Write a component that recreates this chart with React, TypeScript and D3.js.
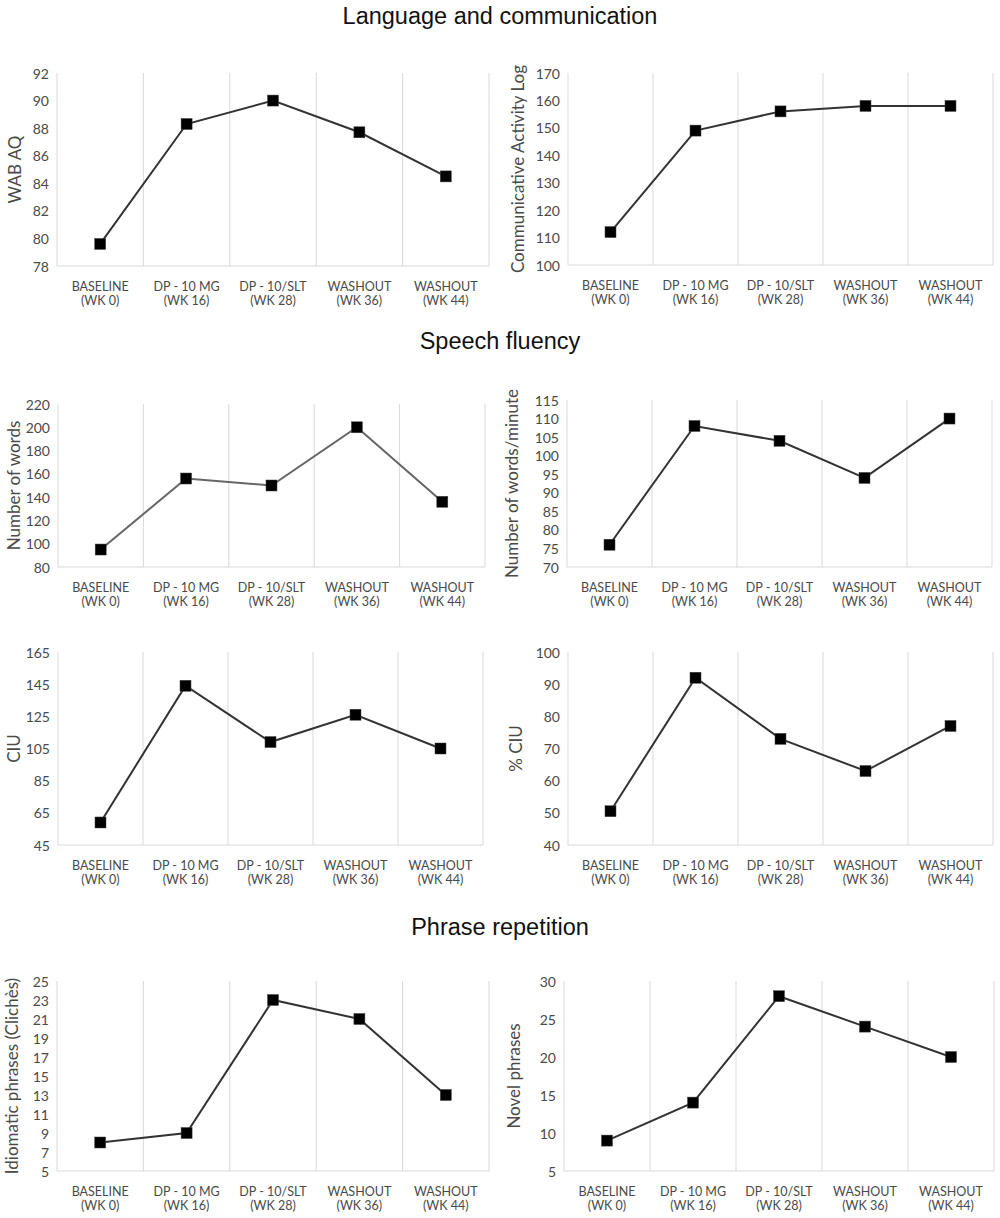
import React, { useEffect } from "react";
import * as d3 from "d3";

const categories = [
  ["BASELINE", "(WK 0)"],
  ["DP - 10 MG", "(WK 16)"],
  ["DP - 10/SLT", "(WK 28)"],
  ["WASHOUT", "(WK 36)"],
  ["WASHOUT", "(WK 44)"],
];
const catKeys = categories.map((c) => c.join(" "));

const sectionTitles = ["Language and communication", "Speech fluency", "Phrase repetition"];

const wabAQ = [79.6, 88.3, 90.0, 87.7, 84.5];
const activityLog = [112, 149, 156, 158, 158];
const numWords = [95, 156, 150, 200, 136];
const wordsPerMinute = [76, 108, 104, 94, 110];
const ciu = [59, 144, 109, 126, 105];
const pctCiu = [50.5, 92, 73, 63, 77];
const idiomatic = [8, 9, 23, 21, 13];
const novel = [9, 14, 28, 24, 20];

// [min, max, step] for each y axis
const wabTicks = [78, 92, 2];
const logTicks = [100, 170, 10];
const wordsTicks = [80, 220, 20];
const wpmTicks = [70, 115, 5];
const ciuTicks = [45, 165, 20];
const pctTicks = [40, 100, 10];
const idiomTicks = [5, 25, 2];
const novelTicks = [5, 30, 5];

interface Panel {
  label: string;
  values: number[];
  ticks: number[];
  box: [number, number, number, number]; // left, right, top, bottom
  titleX: number;
  lineColor?: string;
}

const panels: Panel[] = [
  { label: "WAB AQ", values: wabAQ, ticks: wabTicks, box: [57, 489, 73, 266], titleX: 14 },
  { label: "Communicative Activity Log", values: activityLog, ticks: logTicks, box: [568, 993, 73, 265], titleX: 517 },
  { label: "Number of words", values: numWords, ticks: wordsTicks, box: [58, 485, 404, 567], titleX: 13, lineColor: "#666" },
  { label: "Number of words/minute", values: wordsPerMinute, ticks: wpmTicks, box: [567, 992, 400, 567], titleX: 511 },
  { label: "CIU", values: ciu, ticks: ciuTicks, box: [58, 483, 652, 845], titleX: 13 },
  { label: "% CIU", values: pctCiu, ticks: pctTicks, box: [568, 993, 652, 845], titleX: 515 },
  { label: "Idiomatic phrases (Clichès)", values: idiomatic, ticks: idiomTicks, box: [57, 489, 981, 1171], titleX: 11 },
  { label: "Novel phrases", values: novel, ticks: novelTicks, box: [564, 994, 981, 1171], titleX: 513 },
];

const titleY = [24, 349, 935];

const FONT = "Lato, 'Open Sans', sans-serif";
const GRID = "#d9d9d9";
const TEXT = "#4a4a4a";

const ChartPanel: React.FC<{ p: Panel }> = ({ p }) => {
  const [left, right, top, bottom] = p.box;
  const [min, max, step] = p.ticks;
  const x = d3.scaleBand<string>().domain(catKeys).range([left, right]).padding(0);
  const y = d3.scaleLinear().domain([min, max]).range([bottom, top]);
  const tickVals = d3.range(min, max + step / 2, step);
  const edges = [...catKeys.map((k) => x(k)!), right];
  const cx = (i: number) => x(catKeys[i])! + x.bandwidth() / 2;
  const line = d3
    .line<number>()
    .x((_, i) => cx(i))
    .y((d) => y(d));
  const sq = 11;

  return (
    <g>
      {edges.map((e, i) => (
        <line key={i} x1={e} x2={e} y1={top} y2={bottom} stroke={GRID} strokeWidth={1} />
      ))}
      <line x1={left} x2={right} y1={bottom} y2={bottom} stroke={GRID} strokeWidth={1} />
      {tickVals.map((t) => (
        <text
          key={t}
          x={left - 8}
          y={y(t)}
          textAnchor="end"
          dominantBaseline="central"
          fontSize={14}
          fill={TEXT}
          fontFamily={FONT}
        >
          {t}
        </text>
      ))}
      {categories.map((c, i) => (
        <text key={i} textAnchor="middle" fontSize={12.5} fill={TEXT} fontFamily={FONT}>
          <tspan x={cx(i)} y={bottom + 25}>
            {c[0]}
          </tspan>
          <tspan x={cx(i)} y={bottom + 39}>
            {c[1]}
          </tspan>
        </text>
      ))}
      <text
        transform={`translate(${p.titleX},${(top + bottom) / 2}) rotate(-90)`}
        textAnchor="middle"
        dominantBaseline="central"
        fontSize={17}
        fill={TEXT}
        fontFamily={FONT}
      >
        {p.label}
      </text>
      <path d={line(p.values) || ""} fill="none" stroke={p.lineColor || "#333"} strokeWidth={2} />
      {p.values.map((v, i) => (
        <rect
          key={i}
          x={cx(i) - sq / 2}
          y={y(v) - sq / 2}
          width={sq}
          height={sq}
          fill="#000"
          stroke="#444"
          strokeWidth={0.5}
        />
      ))}
    </g>
  );
};

const App: React.FC = () => {
  useEffect(() => {
    document.body.style.margin = "0";
  }, []);

  return (
    <svg width={1000} height={1218} style={{ display: "block", background: "#fff" }}>
      <rect width={1000} height={1218} fill="#fff" />
      {sectionTitles.map((t, i) => (
        <text
          key={t}
          x={500}
          y={titleY[i]}
          textAnchor="middle"
          fontSize={23.5}
          fill="#111"
          fontFamily="'Liberation Sans', Arial, sans-serif"
        >
          {t}
        </text>
      ))}
      {panels.map((p) => (
        <ChartPanel key={p.label} p={p} />
      ))}
    </svg>
  );
};

export default App;
